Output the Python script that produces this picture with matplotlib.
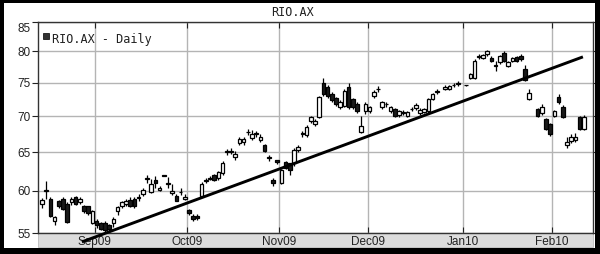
import numpy as np
import matplotlib
matplotlib.use("Agg")
import matplotlib.pyplot as plt
from matplotlib.patches import Rectangle
from matplotlib.transforms import ScaledTranslation
from matplotlib.ticker import NullLocator, FixedLocator

nan = float("nan")
# Daily candles (trading-day index), prices in AUD
opens = [58.4, 60.0, 59.0, 56.4, 58.7, 59.0, 58.4, 58.6, 59.3, 58.6,
         58.2, 58.1, 56.1, 56.4, 56.1, 56.2, 55.9, 56.1, 57.5, 58.2,
         58.4, 58.9, 59.0, 59.1, 59.6, 61.5, 59.9, 61.4, 60.1, 62.0,
         60.9, 59.7, 59.4, 59.8, 59.0, 57.7, 57.0, 57.0, 59.4, 61.2,
         61.5, 62.0, 61.6, 62.2, 65.0, 65.0, 64.3, 66.2, 66.3, 67.7,
         66.9, 67.4, 66.6, 65.9, 64.3, 61.4, 63.9, 61.0, 63.7, 63.5,
         63.5, 65.3, 67.5, 67.3, 69.3, 68.9, 69.9, 75.0, 74.3, 73.3,
         72.6, 71.3, 71.5, 74.4, 72.5, 71.7, 67.8, 70.7, 70.8, 72.9,
         74.0, 71.3, 71.7, 70.7, 71.0, 70.1, 70.5, 70.0, 71.0, 71.2,
         70.4, 70.6, 70.7, 72.5, 73.6, nan, 74.0, 74.1, 74.6, 74.8,
         nan, 74.7, 75.8, 75.8, 79.1, 78.9, 79.5, 78.9, 77.7, 78.3,
         79.8, 77.6, 78.4, 79.1, 79.3, 77.2, 72.5, nan, 71.0, 70.4,
         69.6, 68.9, 70.0, 72.8, 71.4, 65.9, 66.5, 66.6, 69.9, 68.2]
highs = [59.1, 61.2, 59.2, 57.0, 58.9, 59.2, 58.6, 59.2, 59.4, 59.2,
         58.3, 58.2, 57.7, 56.6, 56.3, 56.4, 56.0, 56.8, 58.2, 58.8,
         59.0, 59.2, 59.3, 59.6, 60.3, 62.0, 61.5, 61.8, 60.6, 62.0,
         61.7, 60.9, 59.6, 60.3, 59.6, 57.8, 57.2, 57.2, 61.1, 61.6,
         61.9, 62.1, 62.5, 63.8, 65.4, 65.6, 65.2, 67.0, 67.0, 68.1,
         68.0, 67.9, 67.4, 66.1, 64.6, 61.6, 64.0, 62.7, 63.8, 63.6,
         65.5, 65.9, 67.9, 68.7, 70.0, 69.6, 73.0, 75.8, 74.6, 73.5,
         72.8, 72.3, 74.0, 75.0, 72.7, 72.0, 70.0, 72.0, 71.5, 73.8,
         74.5, 72.2, 72.1, 71.5, 71.2, 70.9, 70.9, 70.8, 71.4, 71.9,
         71.2, 71.2, 72.7, 73.4, 74.0, nan, 74.6, 74.7, 75.0, 75.2,
         nan, 74.7, 76.5, 78.8, 79.6, 79.6, 80.2, 79.2, 78.4, 79.4,
         80.0, 78.4, 79.1, 79.3, 79.5, 77.8, 74.0, nan, 71.2, 71.8,
         69.7, 69.0, 70.9, 73.3, 71.6, 67.0, 67.5, 67.6, 70.0, 70.2]
lows = [57.9, 59.0, 56.8, 55.9, 57.9, 57.7, 56.1, 58.3, 58.3, 58.4,
        57.3, 57.1, 56.0, 55.6, 55.3, 55.1, 55.2, 55.7, 57.1, 57.9,
        58.1, 58.0, 57.9, 58.8, 59.4, 61.0, 59.7, 60.3, 60.0, 61.8,
        60.3, 59.5, 58.7, 59.5, 58.9, 57.1, 56.4, 56.5, 59.2, 61.0,
        61.3, 61.2, 61.4, 62.0, 64.6, 64.8, 63.9, 66.0, 66.0, 67.3,
        66.7, 67.1, 66.3, 65.0, 63.8, 60.6, 63.4, 60.9, 62.7, 62.0,
        63.2, 65.0, 67.0, 67.0, 69.0, 68.6, 69.7, 73.0, 72.7, 72.0,
        71.5, 71.0, 71.3, 71.0, 71.0, 70.5, 67.6, 70.3, 70.5, 72.7,
        73.6, 71.0, 71.4, 70.5, 69.8, 69.9, 70.2, 69.8, 70.7, 70.9,
        70.1, 70.4, 70.5, 72.3, 73.3, nan, 73.8, 73.9, 74.3, 74.5,
        nan, 74.5, 75.6, 75.6, 78.8, 78.7, 79.3, 78.2, 76.9, 78.0,
        78.2, 77.4, 78.2, 78.2, 78.5, 75.2, 72.3, nan, 69.8, 70.2,
        68.0, 67.2, 69.8, 71.8, 69.7, 65.5, 66.2, 66.3, 68.0, 68.0]
closes = [58.9, 60.1, 57.0, 56.8, 58.1, 57.8, 56.3, 59.0, 58.4, 59.0,
          57.5, 57.3, 57.5, 55.9, 55.5, 55.3, 55.4, 56.6, 58.0, 58.6,
          58.8, 58.2, 58.1, 59.2, 60.1, 61.6, 60.9, 61.0, 60.4, 61.9,
          61.0, 60.0, 58.8, 59.9, 59.3, 57.3, 56.6, 56.7, 60.9, 61.3,
          61.6, 61.3, 62.4, 63.6, 65.1, 65.2, 64.8, 66.8, 66.8, 67.8,
          67.4, 67.6, 67.0, 65.1, 64.2, 61.0, 63.7, 62.6, 62.9, 62.6,
          65.3, 65.7, 67.6, 68.5, 69.8, 69.3, 72.8, 73.2, 72.9, 72.3,
          71.8, 72.0, 73.7, 71.3, 71.3, 70.7, 68.6, 71.7, 71.3, 73.6,
          74.1, 72.0, 71.8, 71.3, 70.0, 70.7, 70.6, 70.6, 71.1, 71.6,
          70.9, 71.0, 72.5, 73.2, 73.7, nan, 74.4, 74.5, 74.7, 74.9,
          nan, 74.6, 76.3, 78.4, 79.2, 79.4, 80.0, 78.4, 77.8, 79.2,
          78.4, 78.2, 78.9, 78.4, 78.7, 75.4, 73.4, nan, 70.0, 71.4,
          68.2, 67.5, 70.7, 72.0, 69.9, 66.4, 67.1, 67.0, 68.2, 69.9]

month_labels = ["Sep09", "Oct09", "Nov09", "Dec09", "Jan10", "Feb10"]
month_index = [12.6, 34.5, 56.4, 77.6, 100.2, 121.4]
y_ticks = [55, 60, 65, 70, 75, 80, 85]
trend_index = [9.5, 128.8]
trend_price = [54.0, 79.1]

W, H = 600, 254
fig = plt.figure(figsize=(W / 100, H / 100), dpi=100)
fig.patch.set_facecolor("white")
ax = fig.add_axes([38 / W, 21 / H, 555 / W, 211 / H])
ax.set_yscale("log")
ax.set_ylim(55, 85)
ax.set_xlim(-0.95, 131.2)

# candles
for i, (o, h, l, c) in enumerate(zip(opens, highs, lows, closes)):
    if np.isnan(o):
        continue
    ax.vlines(i, l, h, color="black", lw=0.9, zorder=3)
    bottom = min(o, c)
    height = max(abs(c - o), 0.07)
    up = c >= o
    ax.add_patch(Rectangle((i - 0.42, bottom), 0.84, height,
                           facecolor="white" if up else "#1a1a1a",
                           edgecolor="black", lw=0.9, zorder=4))

# trend line
ax.plot(trend_index, trend_price, color="black", lw=2.1, clip_on=False,
        zorder=6, solid_capstyle="butt")

# grid & ticks
ax.yaxis.set_major_locator(FixedLocator(y_ticks))
ax.yaxis.set_minor_locator(NullLocator())
ax.set_yticklabels([str(v) for v in y_ticks])
ax.set_xticks(month_index)
ax.set_xticklabels(month_labels)
ax.grid(True, color="#b4b4b4", lw=1.0, zorder=0)
ax.set_axisbelow(True)
ax.tick_params(axis="y", which="both", left=True, right=True, labelleft=True,
               labelright=False, direction="out", length=4, width=0.8,
               labelsize=8.5, pad=1.5, colors="#222222")
ax.tick_params(axis="x", which="both", top=True, bottom=True, direction="in",
               length=4, width=0.8, labelsize=8.5, pad=2.0, colors="#222222")
for lbl in ax.get_yticklabels() + ax.get_xticklabels():
    lbl.set_family("Liberation Sans")
# shift the top "85" label down like the reference
ylabels = ax.get_yticklabels()
ylabels[-1].set_transform(ylabels[-1].get_transform() +
                          ScaledTranslation(0, -6 / 100, fig.dpi_scale_trans))
for sp in ax.spines.values():
    sp.set_color("#333333")
    sp.set_linewidth(1.0)

# grey date band under the plot
fig.patches.append(Rectangle((38 / W, 7 / H), 555 / W, 14 / H,
                             transform=fig.transFigure, facecolor="#dcdcdc",
                             edgecolor="#bbbbbb", lw=0.6, zorder=-1))
# outer black frame
for (x0, y0, w, h) in [(0, 0, 4, H), (0, H - 3, W, 3), (595, 0, 5, H), (0, 0, W, 6)]:
    fig.patches.append(Rectangle((x0 / W, y0 / H), w / W, h / H,
                                 transform=fig.transFigure, facecolor="black",
                                 edgecolor="none", zorder=5))

# title
fig.text(292 / W, 1 - 13 / H, "RIO.AX", ha="center", va="center",
         family="DejaVu Sans Mono", fontsize=8.5, color="#222222")
# legend
fig.patches.append(Rectangle((43 / W, 1 - 39 / H), 6 / W, 6 / H,
                             transform=fig.transFigure, facecolor="#333333",
                             edgecolor="black", lw=0.5, zorder=5))
fig.text(52 / W, 1 - 39 / H, "RIO.AX - Daily", ha="left", va="center",
         family="DejaVu Sans Mono", fontsize=8.5, color="#222222")

fig.savefig("out.png", dpi=100)
